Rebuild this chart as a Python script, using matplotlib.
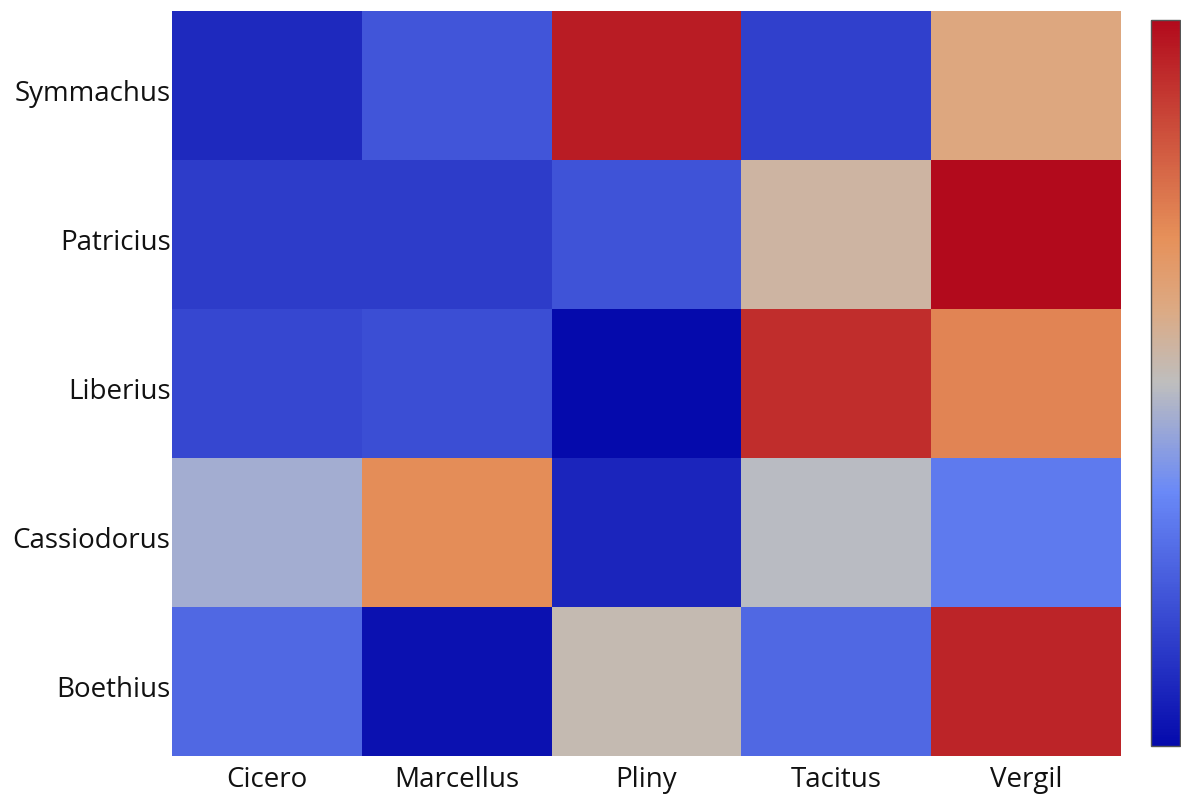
import numpy as np
import matplotlib
matplotlib.use("Agg")
import matplotlib.pyplot as plt
import matplotlib.transforms as mtransforms
from matplotlib.colors import LinearSegmentedColormap

authors = ["Symmachus", "Patricius", "Liberius", "Cassiodorus", "Boethius"]
sources = ["Cicero", "Marcellus", "Pliny", "Tacitus", "Vergil"]

# rows follow authors, top to bottom
symmachus = [0.087, 0.208, 0.96, 0.149, 0.61]
patricius = [0.14, 0.14, 0.20, 0.55, 1.00]
liberius = [0.17, 0.19, 0.00, 0.92, 0.73]
cassiodorus = [0.45, 0.71, 0.077, 0.49, 0.31]
boethius = [0.26, 0.02, 0.52, 0.26, 0.94]

plt.rcParams["font.family"] = ["Open Sans", "DejaVu Sans"]

stops = [
    (0.0, (5, 10, 172)),
    (0.35, (106, 137, 247)),
    (0.5, (190, 190, 190)),
    (0.6, (220, 170, 132)),
    (0.7, (230, 145, 90)),
    (1.0, (178, 10, 28)),
]
cmap = LinearSegmentedColormap.from_list(
    "rdbu_r", [(p, tuple(c / 255 for c in rgb)) for p, rgb in stops]
)

z = np.array([symmachus, patricius, liberius, cassiodorus, boethius])

fig = plt.figure(figsize=(11.81, 7.96), dpi=100)
ax = fig.add_axes([172 / 1181, 1 - 756 / 796, (1121 - 172) / 1181, (756 - 11) / 796])
mesh = ax.pcolormesh(z[::-1], cmap=cmap, vmin=z.min(), vmax=z.max())

ax.set_xticks(np.arange(len(sources)) + 0.5)
ax.set_xticklabels(sources, fontsize=20, color="#111111")
ax.set_yticks(np.arange(len(authors)) + 0.5)
ax.set_yticklabels(authors[::-1], fontsize=20, color="#111111")
ax.tick_params(axis="x", length=0, pad=7)
ax.tick_params(axis="y", length=0, pad=1)

# plotly-style labels sit a few px below the cell centre
shift = mtransforms.ScaledTranslation(0, -5 / 100, fig.dpi_scale_trans)
for lbl in ax.get_yticklabels():
    lbl.set_transform(lbl.get_transform() + shift)
for s in ax.spines.values():
    s.set_visible(False)

cax = fig.add_axes([1151 / 1181, 1 - 746 / 796, 29 / 1181, (746 - 20) / 796])
cb = fig.colorbar(mesh, cax=cax)
cb.set_ticks([])
cb.outline.set_edgecolor("#555555")
cb.outline.set_linewidth(1)

fig.savefig("out.png", dpi=100)
